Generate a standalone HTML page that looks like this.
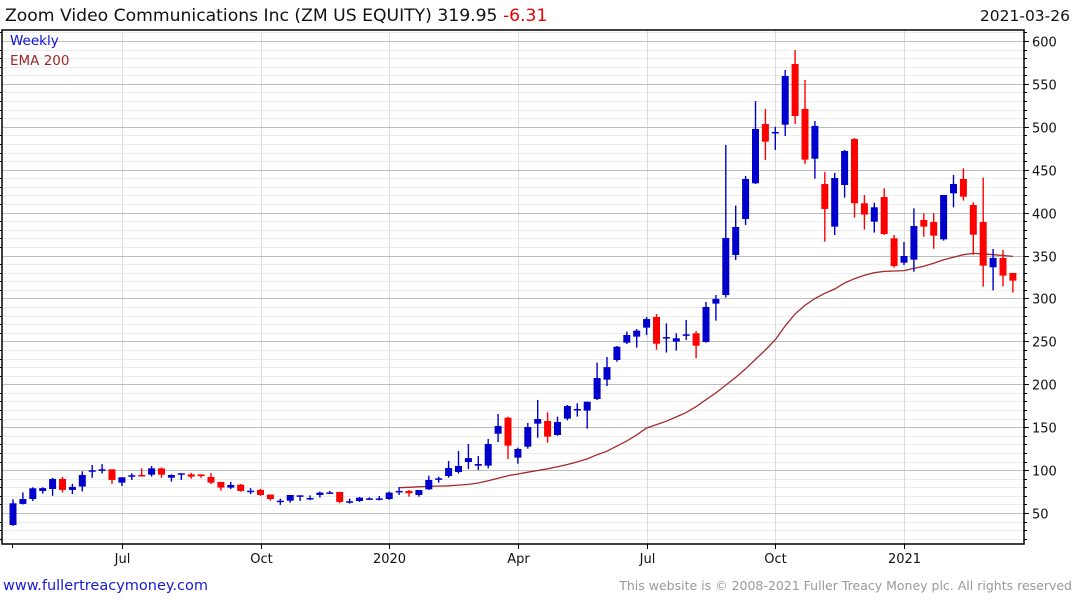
<!DOCTYPE html>
<html><head><meta charset="utf-8"><style>
body{margin:0;background:#fff;width:1075px;height:600px;overflow:hidden;font-family:"Liberation Sans","DejaVu Sans",sans-serif}
svg text{font-family:"DejaVu Sans","Liberation Sans",sans-serif}
</style></head><body>
<svg id="chart" width="1075" height="600" xmlns="http://www.w3.org/2000/svg">
<text x="5" y="21" font-size="17.2" fill="#111">Zoom Video Communications Inc (ZM US EQUITY) 319.95 <tspan fill="#e00">-6.31</tspan></text>
<text x="1070" y="21" font-size="15.5" fill="#111" text-anchor="end">2021-03-26</text>
<g id="grid"></g>
<g id="ema"></g>
<g id="candles"></g>
<g id="axes"></g>
<text x="10" y="45" font-size="13.5" fill="#1010dd">Weekly</text>
<text x="10" y="65" font-size="13.5" fill="#a02828">EMA 200</text>
<text x="3" y="590" font-size="14.5" fill="#1a1acc">www.fullertreacymoney.com</text>
<text x="1072" y="590" font-size="12.5" fill="#999" text-anchor="end">This website is © 2008-2021 Fuller Treacy Money plc. All rights reserved</text>
</svg>
<script>
const opens=[36,60.6,66.3,75.7,78,89.7,76.9,80.8,99.8,100.9,100.9,85.4,94,94.3,94.7,102,91.2,96.3,95,95,92,86.2,79.6,83,76,76.9,71.4,64.4,64.4,70.6,67,71,74,74.5,63.7,64,67.1,67,66.3,75.7,75.6,71,77.6,90.4,93.1,97.8,109.4,105.2,105.2,142.4,161.1,114.5,127.3,154.1,157.2,140.9,160,171.2,169.3,182.8,205.4,228.3,248.5,255.5,266,278.4,254,249.7,258.2,259.4,249.3,294,304,350.7,392.6,434.2,503.3,494,502.5,573.2,520.8,462.9,433.4,383.7,432.2,485.8,410.9,389.5,418.2,370.1,341.7,345.2,391.4,389.1,368.9,422.5,439.2,408.9,389.1,336.3,347.2,329.7];
const closes=[61.3,66.3,78.8,79,89.7,76.9,80.4,94.3,99.8,100.9,88.5,91.6,94,93.2,102,94.7,94.3,96.3,92.4,93,85.4,79.6,82.7,75.7,76,71,66.3,64.4,71,70.6,67.5,73.8,74,62.9,63.7,67.9,67.1,67,73.8,75.7,73,76.8,88.5,90.4,102.4,104.8,114,107.1,130.4,151.4,128.5,124.6,150.2,159.5,139,156,174.7,171.2,179.7,207.3,220,243.8,257.4,262.5,276,247.3,255,253.6,258.2,245,290.1,299.4,370.5,383.3,439.2,497.5,482.7,494,559.2,512.6,461.8,501,404.3,440.4,471.9,410.9,397.7,406.2,375.1,337.8,349.5,384.4,383.7,373.2,420.6,433.4,418.6,374.3,338.2,347.2,326.6,320.8];
const highs=[66,74,80,80,91,92,84,98.6,106,107,101,91.6,96.3,102,104.8,103,95,96.3,96.7,95,96.7,86,86.2,83.8,79,78,71.4,66.7,71,70.6,70.6,75,75.7,74.5,66.7,68.7,68.3,69.9,75,80,76.8,76.8,93.5,92.4,110.6,122.3,130.4,116.4,136.3,165.4,162.3,126.1,154.9,181.7,167.3,162.3,175.9,177.8,179.7,225.2,231.8,244.6,261.3,264.4,278.4,281.9,271,259.4,275,262,295.9,304,478.9,408.2,442.7,530,520.8,500,566.2,589.5,554.6,506.8,447.4,446.2,473,487,420.6,411.6,428.3,374,365.8,405,399.2,399.2,420.6,443.9,451.6,412,440.8,357.6,356.5,329.7];
const lows=[35,60,64,72.6,70,73.8,72,75,91,96,84,81.5,88.5,92.4,92.4,91,86.6,88.5,90,91,83.8,76,78,74.9,72,70,64.4,59.4,62,64,65,68,73,61.3,61,62.9,65.2,64.8,65.2,71,69,69,77,85.4,91.2,96,101.3,100.1,102,132.7,113,107.5,125,137.8,132,140.1,158,162.3,148.3,181.7,198,226.3,246.9,242.7,257.4,240.3,237,239.2,251.6,230.3,248.5,274.2,301,344.8,385.6,433.4,461.4,473,489.3,503.3,456.7,439.6,366.2,374,417.5,394.2,380.2,376.7,374,335.9,339,331.2,372,358,367.4,406.2,414,351,313.8,309.5,314,306.8];
const emaStart=39;
const emaValues=[79.5,80,80.5,81,81.3,81.7,82.5,83.3,85,87.5,90.5,93.5,95.5,97.5,99.5,101.5,104,106.5,109.5,113,118,122,128,134,141,149,153,157,162,167,174,182,190,199,208,218,229,240,252,268,282,292,300,306,311,318,323,327,330,331.5,332,332.5,335,337.5,341,345,348,351,352.5,352,351,350,349];
const yTicks=[50,100,150,200,250,300,350,400,450,500,550,600];
const xLabels=["Jul","Oct","2020","Apr","Jul","Oct","2021"];
const xLabelIdx=[11,25,38,51,64,77,90];

const NS="http://www.w3.org/2000/svg";
const L=2,R=1024,T=30,B=544;
function y(v){return 41+(600-v)*0.8582;}
function x(i){return 13+i*9.9;}
function mk(tag,attrs,parent){const e=document.createElementNS(NS,tag);for(const k in attrs)e.setAttribute(k,attrs[k]);parent.appendChild(e);return e;}
const grid=document.getElementById('grid'),axes=document.getElementById('axes'),cg=document.getElementById('candles'),eg=document.getElementById('ema');
for(let v=20;v<=610;v+=10){if(v%50===0)continue;const yy=Math.round(y(v))+0.5;
 const g=mk('line',{x1:L,x2:R,y1:yy,y2:yy,stroke:'#ececec','stroke-width':1},grid);
 
 }
xLabelIdx.forEach(function(i){const xx=Math.round(x(i))+0.5;
 const g=mk('line',{x1:xx,x2:xx,y1:T,y2:B,stroke:'#dddddd','stroke-width':1},grid);
 
 });
yTicks.forEach(function(v){const yy=Math.round(y(v))+0.5;
 const g=mk('line',{x1:L,x2:R,y1:yy,y2:yy,stroke:'#bdbdbd','stroke-width':1},grid);
 
 
 const t=mk('text',{x:R+8,y:yy+5,'font-size':13,fill:'#111'},axes);t.textContent=v;
 
 
 const tk=mk('line',{x1:R,x2:R+5,y1:yy,y2:yy,stroke:'#000'},axes);
 
 });
for(let v=20;v<=610;v+=10){if(v%50===0)continue;const yy=Math.round(y(v))+0.5;
 const tk=mk('line',{x1:R,x2:R+3,y1:yy,y2:yy,stroke:'#000'},axes);
 
 
 const tl=mk('line',{x1:L-2,x2:L,y1:yy,y2:yy,stroke:'#000'},axes);
 
 }
xLabelIdx.forEach(function(i,k){const xx=Math.round(x(i))+0.5;
 const tk=mk('line',{x1:xx,x2:xx,y1:B,y2:B+5,stroke:'#000'},axes);
 
 
 const t=mk('text',{x:xx,y:B+19,'font-size':13,fill:'#111','text-anchor':'middle'},axes);t.textContent=xLabels[k];
 
 });
const frame=mk('path',{d:'M'+L+' '+T+' H'+R+' V'+B+' H'+L+' Z',fill:'none',stroke:'#000','stroke-width':1.5},axes);


const s0=mk('line',{x1:12.5,x2:12.5,y1:B,y2:B+4,stroke:'#000'},axes);


let d='';emaValues.forEach(function(v,k){d+=(k?'L':'M')+x(emaStart+k).toFixed(1)+' '+y(v).toFixed(1)+' ';});
const ep=mk('path',{d:d,fill:'none',stroke:'#a52a2a','stroke-width':1.3},eg);


opens.forEach(function(o,i){const c=closes[i],up=c>=o,col=up?'#0000cc':'#ff0000';const cx=x(i);
 const g=mk('g',{},cg);
 
 
 mk('rect',{x:cx-0.7,y:y(highs[i]),width:1.4,height:Math.max(1,y(lows[i])-y(highs[i])),fill:col},g);
 const top=y(Math.max(o,c)),h=Math.max(1.5,y(Math.min(o,c))-top);
 mk('rect',{x:cx-3.5,y:top,width:7,height:h,fill:col},g);});
</script>
</body></html>
